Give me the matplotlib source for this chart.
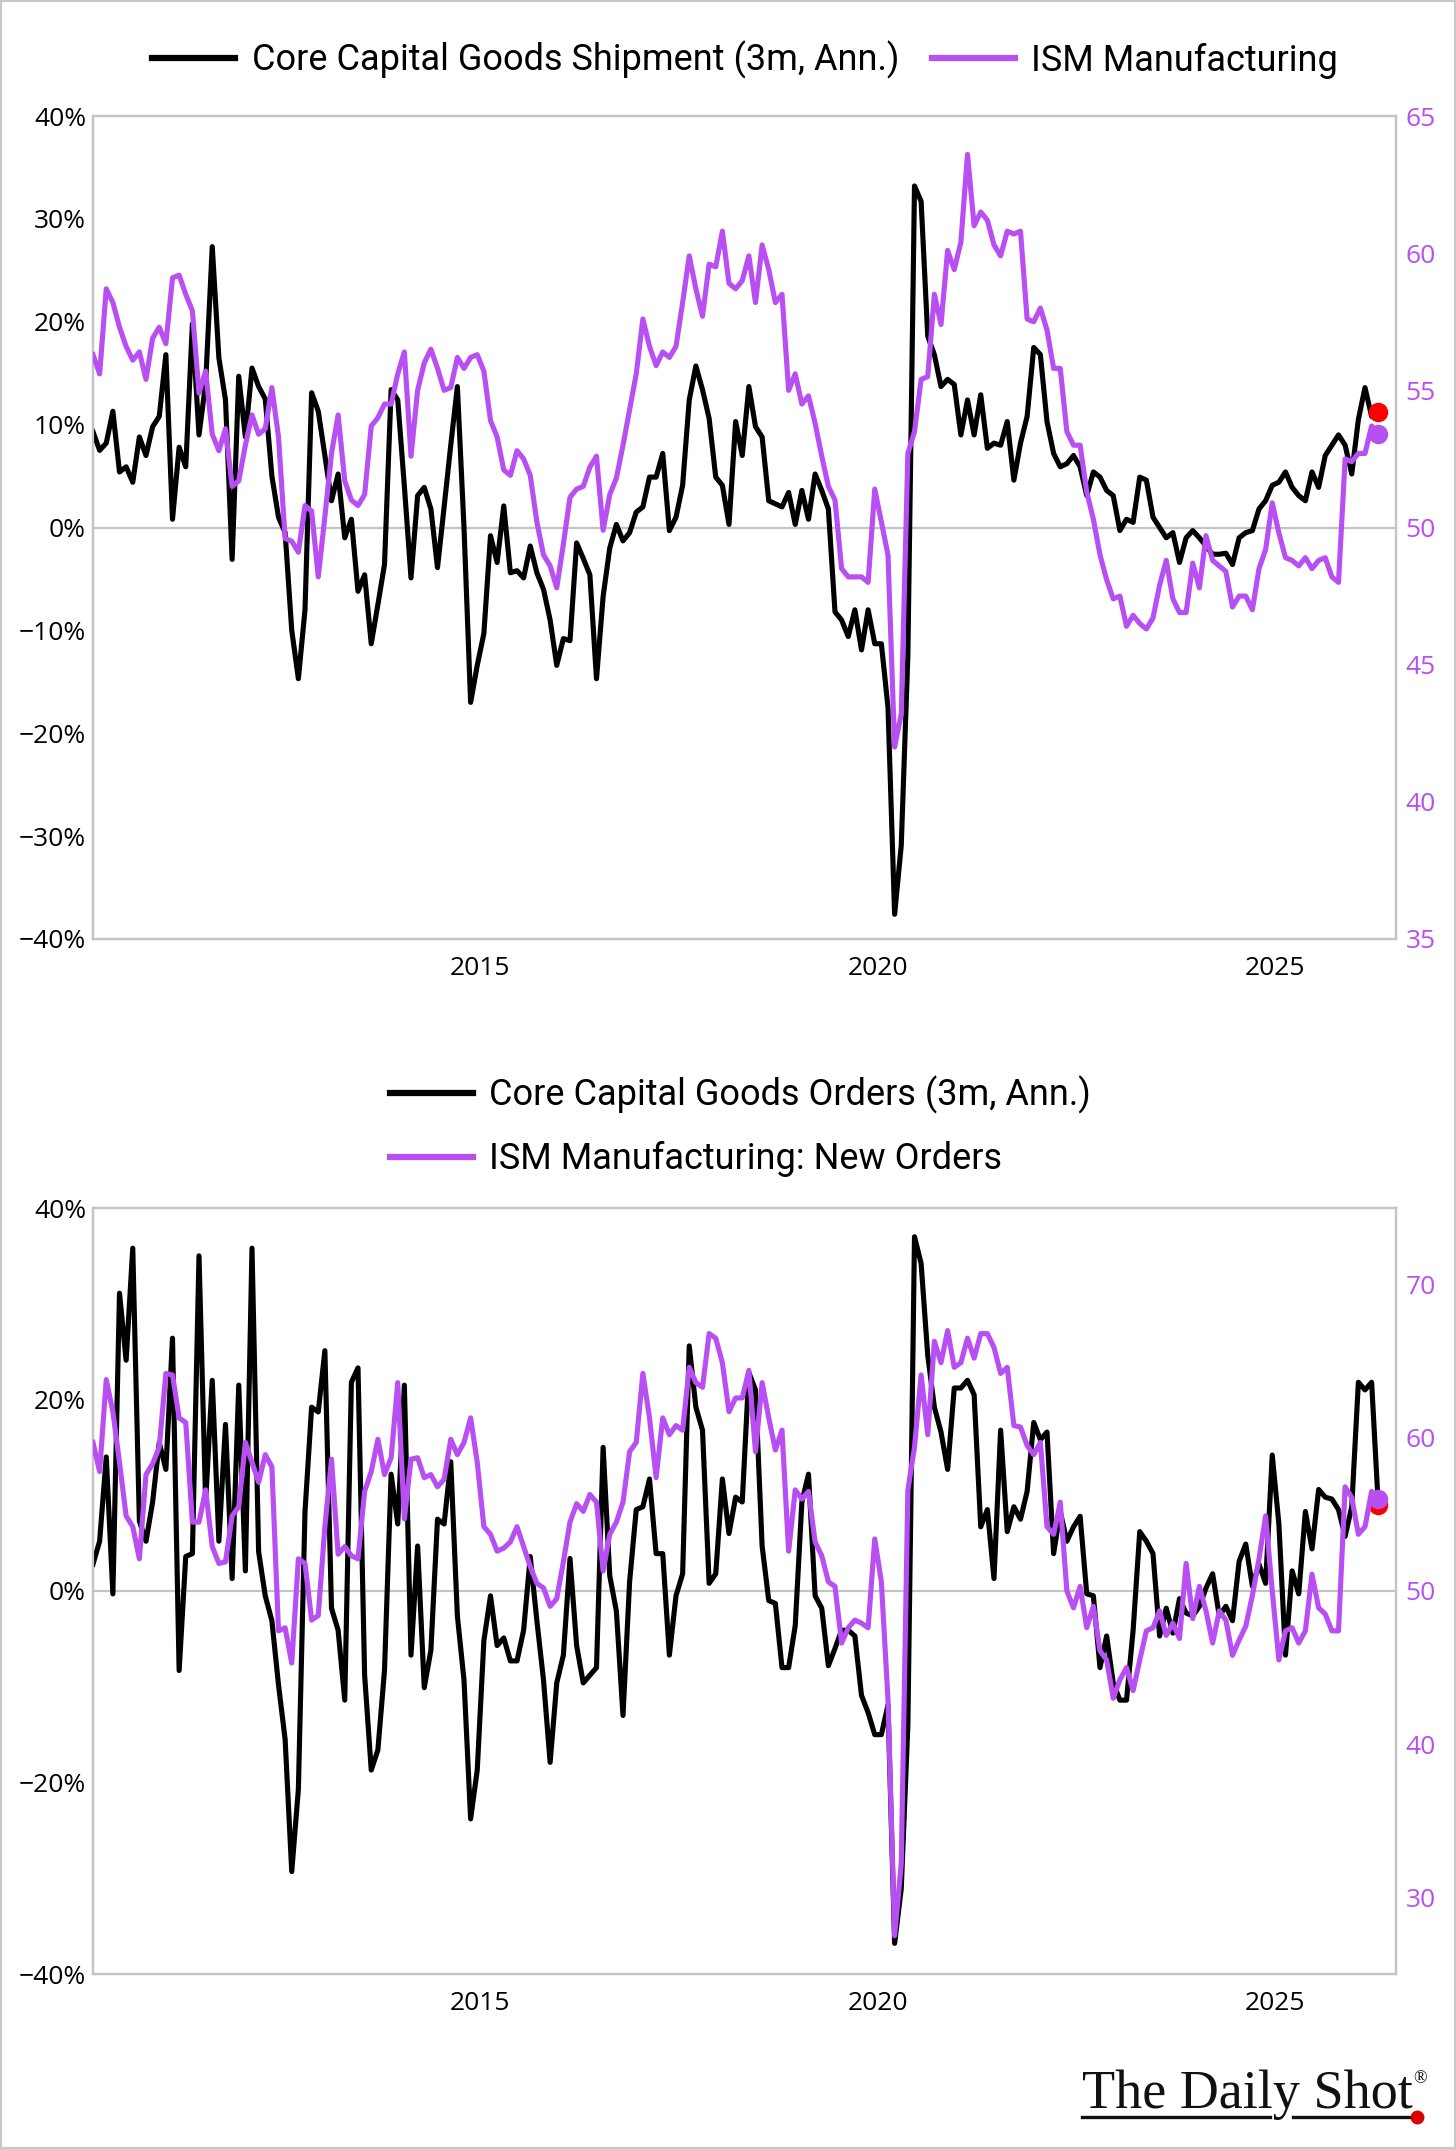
import numpy as np
import matplotlib
matplotlib.use("Agg")
from matplotlib import pyplot as plt
from matplotlib.lines import Line2D
from matplotlib.patches import Rectangle
from matplotlib.ticker import FuncFormatter

# ============================================
# Data (monthly)
# ============================================
start_year = 2010.13          # first monthly observation (decimal year)

# Top panel: core capital goods shipments (3m, ann., %) and ISM manufacturing
shipments = [
    9.3, 7.5, 8.2, 11.3, 5.4, 5.9, 4.4, 8.8, 7.0, 9.8,
    10.8, 16.8, 0.8, 7.8, 5.9, 19.8, 9.0, 14.0, 27.3, 16.5,
    12.4, -3.1, 14.7, 8.8, 15.5, 13.7, 12.5, 5.0, 1.0, -0.5,
    -10.0, -14.7, -8.0, 13.1, 11.3, 7.0, 2.6, 5.2, -1.0, 0.8,
    -6.2, -4.6, -11.3, -7.5, -3.6, 13.4, 12.4, 4.0, -4.9, 3.1,
    3.9, 1.8, -3.9, 2.0, 8.0, 13.7, 0.0, -17.0, -13.4, -10.3,
    -0.8, -3.4, 2.1, -4.4, -4.2, -4.9, -1.8, -4.4,
    -6.0, -9.0, -13.4, -10.8, -11.0, -1.5, -3.0, -4.6, -14.7, -6.7,
    -2.0, 0.3, -1.3, -0.5, 1.5, 2.0, 4.9, 4.9, 7.2, -0.3,
    1.0, 4.1, 12.4, 15.7, 13.4, 10.6, 4.9, 4.1, 0.3, 10.3,
    7.0, 13.7, 9.8, 8.8, 2.6, 2.3, 2.0, 3.4, 0.3, 3.6,
    0.8, 5.2, 3.6, 1.8, -8.2, -9.0, -10.6, -8.0, -11.9, -8.0,
    -11.3, -11.3, -17.5, -37.6, -30.9, -12.4, 33.2, 31.7, 18.6, 16.8,
    13.7, 14.4, 13.9, 9.0, 12.4, 9.0,
    12.9, 7.7, 8.2, 8.0, 10.3, 4.6, 8.2, 10.8, 17.5, 16.8,
    10.3, 7.2, 5.9, 6.2, 7.0, 5.9, 3.1, 5.4, 4.9, 3.6,
    3.1, -0.3, 0.8, 0.5, 4.9, 4.6, 1.0, 0.0, -1.0, -0.5,
    -3.4, -1.0, -0.3, -1.0, -1.8, -2.6, -2.6, -2.5, -3.6, -1.0,
    -0.5, -0.3, 1.8, 2.6, 4.1, 4.4, 5.4, 3.9, 3.1, 2.6,
    5.4, 3.9, 7.0, 8.0, 9.0, 8.0, 5.2, 10.5, 13.6, 10.8,
    11.2,
]

ism = [
    56.3, 55.6, 58.7, 58.2, 57.3, 56.6, 56.1, 56.4, 55.4, 56.9,
    57.3, 56.7, 59.1, 59.2, 58.5, 57.9, 54.9, 55.7, 53.4, 52.8,
    53.6, 51.5, 51.7, 53.0, 54.1, 53.4, 53.6, 55.1, 53.3, 49.6,
    49.5, 49.1, 50.8, 50.6, 48.2, 50.4, 52.7, 54.1, 51.7, 51.0,
    50.8, 51.2, 53.7, 54.0, 54.5, 54.5, 55.6, 56.4, 52.6, 55.0,
    56.0, 56.5, 55.8, 55.0, 55.1, 56.2, 55.8, 56.2, 56.3, 55.7,
    53.9, 53.3, 52.1, 51.9, 52.8, 52.5, 51.9, 50.2,
    49.0, 48.6, 47.8, 49.4, 51.1, 51.4, 51.5, 52.2, 52.6, 49.9,
    51.2, 51.8, 53.0, 54.3, 55.6, 57.6, 56.6, 55.9, 56.4, 56.2,
    56.6, 58.2, 59.9, 58.7, 57.7, 59.6, 59.5, 60.8, 58.9, 58.7,
    59.0, 59.9, 58.2, 60.3, 59.4, 58.2, 58.5, 55.0, 55.6, 54.5,
    54.8, 53.8, 52.6, 51.5, 51.0, 48.5, 48.2, 48.2, 48.2, 48.0,
    51.4, 50.2, 49.0, 42.0, 43.2, 52.7, 53.5, 55.4, 55.5, 58.5,
    57.4, 60.1, 59.4, 60.4, 63.6, 61.0,
    61.5, 61.2, 60.3, 59.9, 60.8, 60.7, 60.8, 57.6, 57.5, 58.0,
    57.2, 55.8, 55.8, 53.5, 53.0, 53.0, 51.3, 50.3, 49.0, 48.1,
    47.4, 47.5, 46.4, 46.8, 46.5, 46.3, 46.7, 47.9, 48.8, 47.4,
    46.9, 46.9, 48.7, 47.8, 49.7, 48.8, 48.6, 48.4, 47.1, 47.5,
    47.5, 47.0, 48.5, 49.2, 50.9, 49.8, 48.9, 48.8, 48.6, 48.9,
    48.5, 48.8, 48.9, 48.2, 48.0, 52.5, 52.4, 52.7, 52.7, 53.7,
    53.4,
]

# Bottom panel: core capital goods orders (3m, ann., %) and ISM new orders
orders = [
    2.8, 5.2, 14.0, -0.3, 31.1, 24.1, 35.8, 7.3, 5.2, 9.3,
    15.5, 12.7, 26.4, -8.3, 3.6, 3.9, 35.0, 9.3, 22.0, 5.2,
    17.4, 1.3, 21.5, 2.1, 35.8, 4.1, -0.5, -3.1, -9.8, -15.5,
    -29.3, -20.7, 8.3, 19.2, 18.7, 25.1, -1.8, -4.1, -11.4, 21.8,
    23.3, -8.8, -18.7, -16.6, -8.3, 12.2, 7.0, 21.5, -6.7, 4.7,
    -10.1, -6.2, 7.5, 7.0, 13.5, -2.6, -9.3, -23.8, -18.7, -5.2,
    -0.5, -5.7, -4.9, -7.3, -7.3, -4.1, 3.6, -3.1,
    -9.3, -17.9, -9.6, -6.7, 3.4, -5.7, -9.6, -8.8, -8.0, 15.0,
    1.6, -2.1, -13.0, 1.0, 8.5, 8.8, 11.7, 3.9, 3.9, -6.7,
    -0.5, 1.8, 25.6, 19.2, 16.8, 0.8, 1.8, 11.7, 6.0, 9.8,
    9.3, 22.8, 21.0, 4.7, -1.0, -1.3, -8.0, -8.0, -3.6, 9.3,
    12.2, -0.5, -1.8, -7.8, -6.0, -4.1, -4.1, -4.7, -10.9, -12.7,
    -15.0, -15.0, -11.9, -36.8, -31.1, -14.0, 37.0, 34.2, 24.6, 19.2,
    16.6, 12.7, 21.2, 21.2, 22.0, 20.5,
    6.7, 8.5, 1.3, 16.8, 6.2, 8.8, 7.5, 10.4, 17.6, 15.8,
    16.6, 3.9, 8.3, 5.2, 6.7, 7.8, -0.3, -0.5, -8.0, -4.7,
    -9.6, -11.4, -11.4, -4.1, 6.2, 5.2, 3.9, -4.7, -1.8, -4.4,
    -0.8, -2.3, -2.6, -1.6, 0.3, 1.8, -2.6, -1.6, -3.1, 3.1,
    4.9, 0.5, 2.8, 0.8, 14.2, 7.0, -6.7, 2.1, -0.3, 8.3,
    4.4, 10.6, 9.8, 9.6, 8.5, 5.7, 8.8, 21.8, 21.0, 21.8,
    9.0,
]

ism_new_orders = [
    59.7, 57.8, 63.8, 61.7, 58.4, 54.9, 54.2, 52.1, 57.6, 58.3,
    59.4, 64.2, 64.1, 61.3, 61.0, 54.5, 54.5, 56.6, 52.9, 51.8,
    51.9, 54.9, 55.5, 59.7, 58.4, 57.1, 58.9, 58.1, 47.4, 47.6,
    45.3, 52.1, 51.8, 48.1, 48.4, 54.2, 58.6, 52.4, 52.9, 52.3,
    52.1, 56.5, 57.8, 59.9, 57.6, 58.7, 63.6, 54.7, 58.6, 58.7,
    57.4, 57.6, 56.8, 57.3, 59.9, 58.9, 59.7, 61.3, 58.4, 54.2,
    53.7, 52.6, 52.8, 53.2, 54.2, 52.9, 51.6, 50.5,
    50.2, 49.0, 49.5, 51.9, 54.5, 55.7, 55.2, 56.3, 55.8, 51.3,
    53.7, 54.5, 55.8, 59.1, 59.7, 64.2, 61.3, 57.4, 61.3, 60.2,
    60.8, 60.5, 64.6, 63.6, 63.3, 66.8, 66.5, 64.9, 61.7, 62.6,
    62.6, 64.4, 59.1, 63.6, 61.3, 59.2, 60.5, 52.6, 56.6, 56.0,
    56.5, 53.2, 52.3, 50.6, 50.3, 46.6, 47.6, 48.1, 47.9, 47.6,
    53.4, 50.6, 42.9, 27.5, 32.2, 56.6, 59.4, 64.1, 60.2, 66.3,
    64.9, 67.0, 64.6, 64.9, 66.5, 65.2,
    66.8, 66.8, 65.9, 64.2, 64.6, 60.8, 60.7, 59.5, 58.9, 59.7,
    54.2, 53.7, 55.8, 50.0, 48.9, 50.3, 47.6, 49.0, 46.1, 45.5,
    43.0, 44.2, 45.0, 43.5, 45.5, 47.4, 47.6, 48.7, 47.1, 47.9,
    46.9, 51.8, 48.2, 50.3, 48.7, 46.6, 48.7, 48.1, 45.8, 46.8,
    47.7, 49.7, 52.1, 54.9, 50.0, 45.5, 47.4, 47.6, 46.6, 47.4,
    51.1, 48.9, 48.5, 47.4, 47.4, 56.8, 56.1, 53.7, 54.2, 56.5,
    56.0,
]

year_ticks = [2015, 2020, 2025]

# ============================================
# Style
# ============================================
W, H = 1456, 2149
BLACK = '#000000'
PURPLE = '#b84ff2'
GRID = '#c4c4c4'
TICK_FONT = ['Open Sans', 'DejaVu Sans']
LEGEND_FONT = ['Roboto', 'DejaVu Sans']


def months(values):
    return start_year + np.arange(len(values)) / 12.0


def fx(x):
    return x / W


def fy(y):
    return 1 - y / H


pct = FuncFormatter(lambda v, _: f"{v:.0f}%".replace('-', '\u2212'))

fig = plt.figure(figsize=(W / 100, H / 100), dpi=100)
fig.patch.set_facecolor('white')


def make_panel(rect, left_vals, right_vals, right_lim, left_ticks, right_ticks):
    ax = fig.add_axes(rect)
    ax2 = ax.twinx()
    ax.plot(months(left_vals), left_vals, color=BLACK, lw=3.7, zorder=3)
    ax.axhline(0, color=GRID, lw=1.6, zorder=1)
    ax2.plot(months(right_vals), right_vals, color=PURPLE, lw=3.7, zorder=3)

    # end-of-series markers
    ax.plot(months(left_vals)[-1], left_vals[-1], 'o', color='#ff0000', ms=13, zorder=5)
    ax2.plot(months(right_vals)[-1], right_vals[-1], 'o', color=PURPLE, ms=13, zorder=5)

    ax.set_xlim(2010.13, 2026.52)
    ax.set_ylim(-40, 40)
    ax2.set_ylim(*right_lim)
    ax.set_yticks(left_ticks)
    ax2.set_yticks(right_ticks)
    ax.yaxis.set_major_formatter(pct)
    ax.set_xticks(year_ticks)
    ax.set_xticklabels([str(y) for y in year_ticks])

    for a in (ax, ax2):
        for s in a.spines.values():
            s.set_color(GRID)
            s.set_linewidth(1.6)
        a.tick_params(length=0)
    ax.tick_params(axis='y', pad=5, labelcolor=BLACK)
    ax.tick_params(axis='x', pad=12, labelcolor=BLACK)
    ax2.tick_params(axis='y', pad=7, labelcolor=PURPLE)
    for lab in ax.get_xticklabels() + ax.get_yticklabels() + ax2.get_yticklabels():
        lab.set_family(TICK_FONT)
        lab.set_fontsize(19)
    return ax, ax2


# top panel: y 116..939 px, bottom panel: y 1208..1974 px
ax_top, ax_top2 = make_panel([fx(93), fy(939), fx(1303), (939 - 116) / H],
                             shipments, ism, (35, 65),
                             np.arange(-40, 41, 10), np.arange(35, 66, 5))
ax_bot, ax_bot2 = make_panel([fx(93), fy(1974), fx(1303), (1974 - 1208) / H],
                             orders, ism_new_orders, (25, 75),
                             np.arange(-40, 41, 20), np.arange(30, 71, 10))

# Legends
legend_kw = dict(frameon=False, handlelength=2.3, handletextpad=0.45,
                 prop={'family': LEGEND_FONT, 'size': 26})
top_handles = [Line2D([], [], color=BLACK, lw=4.5), Line2D([], [], color=PURPLE, lw=4.5)]
fig.legend(top_handles, ['Core Capital Goods Shipment (3m, Ann.)', 'ISM Manufacturing'],
           loc='center', bbox_to_anchor=(fx(745), fy(60)), ncol=2, columnspacing=0.9,
           **legend_kw)

bot_handles = [Line2D([], [], color=BLACK, lw=4.5), Line2D([], [], color=PURPLE, lw=4.5)]
fig.legend(bot_handles, ['Core Capital Goods Orders (3m, Ann.)', 'ISM Manufacturing: New Orders'],
           loc='upper left', bbox_to_anchor=(fx(390), fy(1076)), ncol=1, labelspacing=0.75,
           borderaxespad=0, borderpad=0, **legend_kw)

# The Daily Shot logo
fig.text(fx(1082), fy(2108), 'The Daily Shot', family=['Liberation Serif', 'DejaVu Serif'],
         fontsize=39, color='#111111', ha='left', va='baseline')
fig.text(fx(1413), fy(2083), '\u00ae', family=['Liberation Serif', 'DejaVu Serif'],
         fontsize=13, color='#111111', ha='left', va='baseline')
fig.add_artist(Line2D([fx(1082), fx(1270)], [fy(2117), fy(2117)], color='#111111', lw=2.4))
fig.add_artist(Line2D([fx(1293), fx(1416)], [fy(2117), fy(2117)], color='#111111', lw=2.4))
fig.add_artist(Line2D([fx(1417)], [fy(2117)], marker='o', ms=9, color='#dd0000',
                      transform=fig.transFigure))

# thin frame around the whole picture
fig.add_artist(Rectangle((0, 0), 1, 1, transform=fig.transFigure, fill=False,
                         edgecolor='#c8c8c8', lw=3))

fig.savefig('out.png', dpi=100, facecolor='white')
